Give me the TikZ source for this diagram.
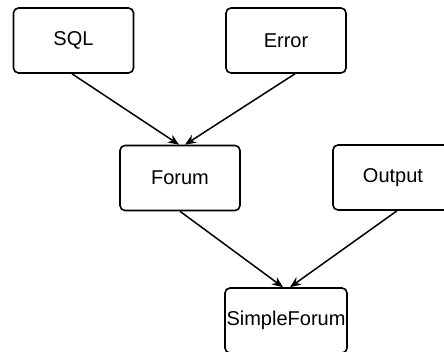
\documentclass[tikz,border=0pt]{standalone}
\usepackage{fontspec}
\setmainfont{Liberation Sans}
\usetikzlibrary{arrows.meta}
\begin{document}
\begin{tikzpicture}[x=1pt,y=-1pt,
  modbox/.style={draw=black, line width=1.6pt, rounded corners=5pt,
    minimum width=120pt, minimum height=65pt, inner sep=0pt,
    font=\fontsize{20}{24}\selectfont},
  dep/.style={line width=1.5pt, draw=black,
    -{Stealth[length=11pt,width=9pt]}}]
  \useasboundingbox (0,0) rectangle (444,351);
  \clip (0,0) rectangle (444,351);
  \fill[white] (0,0) rectangle (444,351);

  % modules
  \node[modbox] (sql)    at (73.5,40.5) {SQL};
  \node[modbox] (error)  at (286,40.5)  {Error};
  \node[modbox] (forum)  at (180,178)   {Forum};
  \node[modbox] (output) at (393,177.5) {Output};
  \node[modbox, minimum width=122pt] (simple) at (286,320.5) {SimpleForum};

  % dependencies
  \draw[dep] ([xshift=-1.5pt]sql.south)  -- ([xshift=-1pt]forum.north);
  \draw[dep] ([xshift=9pt]error.south)   -- ([xshift=5pt]forum.north);
  \draw[dep] (forum.south)               -- ([xshift=-3pt]simple.north);
  \draw[dep] ([xshift=4pt]output.south)  -- ([xshift=4pt]simple.north);
\end{tikzpicture}
\end{document}
